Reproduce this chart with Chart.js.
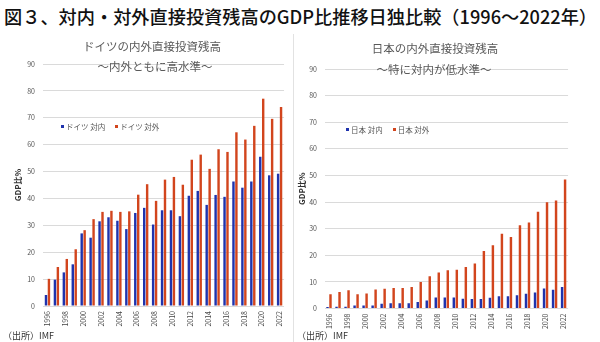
<!DOCTYPE html>
<html lang="ja">
<head>
<meta charset="utf-8">
<title>図３ 対内・対外直接投資残高のGDP比推移日独比較</title>
<script src="https://cdn.jsdelivr.net/npm/chart.js@4.4.1/dist/chart.umd.min.js"></script>
<style>
  html, body { margin: 0; padding: 0; background: #fff; }
  body {
    width: 600px; height: 342px; position: relative; overflow: hidden;
    font-family: 'Noto Sans CJK JP', 'Noto Sans', sans-serif;
  }
  #title {
    position: absolute; left: 4px; top: 5px;
    font-size: 18.2px; line-height: 22px; color: #111; font-weight: 500;
    white-space: nowrap;
  }
  .panel { position: absolute; top: 0; height: 342px; }
  #panel-de { left: 0; width: 293px; }
  #panel-jp { left: 293px; width: 284px; }
  #divider { position: absolute; left: 293px; top: 34px; width: 1px; height: 308px; background: #e2e2e2; }
  .sub {
    position: absolute; font-size: 11.5px; line-height: 14px; color: #595959;
    transform: translateX(-50%); white-space: nowrap;
  }
  .legend {
    position: absolute; display: flex; align-items: center;
    font-size: 7.5px; line-height: 9px; color: #555; white-space: nowrap;
  }
  .legend .item { display: flex; align-items: center; margin-right: 10px; }
  .legend .box { width: 3px; height: 3px; margin-right: 2px; }
  .src { position: absolute; top: 330px; font-size: 9px; line-height: 11px; color: #333; white-space: nowrap; }
</style>
</head>
<body>
<div id="title">図３、対内・対外直接投資残高のGDP比推移日独比較（1996〜2022年）</div>

<div class="panel" id="panel-de"><canvas id="chart-de"></canvas></div>
<div class="panel" id="panel-jp"><canvas id="chart-jp"></canvas></div>
<div id="divider"></div>

<div class="sub" style="left:152px; top:39px;">ドイツの内外直接投資残高</div>
<div class="sub" style="left:155px; top:59px;">〜内外ともに高水準〜</div>
<div class="sub" style="left:435px; top:41px;">日本の内外直接投資残高</div>
<div class="sub" style="left:434px; top:62px;">〜特に対内が低水準〜</div>

<div class="legend" id="legend-de" style="left:61px; top:122px;"></div>
<div class="legend" id="legend-jp" style="left:346px; top:125px;"></div>

<div class="src" style="left:3px;">（出所）IMF</div>
<div class="src" style="left:297px;">（出所）IMF</div>

<script>
// ==============================
// DATA
// ==============================
const years = ['1996', '1997', '1998', '1999', '2000', '2001', '2002', '2003', '2004',
  '2005', '2006', '2007', '2008', '2009', '2010', '2011', '2012', '2013', '2014',
  '2015', '2016', '2017', '2018', '2019', '2020', '2021', '2022'];

const deInward  = [4.1, 9.8, 12.5, 15.5, 27.0, 25.4, 31.5, 33.0, 31.7, 28.6, 34.6, 36.5, 30.3, 35.6,
  35.6, 33.4, 41.0, 42.8, 37.6, 41.3, 40.6, 46.3, 44.0, 46.3, 55.5, 48.6, 49.2];
const deOutward = [10.1, 14.5, 17.5, 21.1, 28.2, 32.3, 35.0, 35.4, 35.0, 35.2, 41.4, 45.3, 39.1, 47.0,
  48.0, 45.1, 54.4, 56.3, 51.0, 58.3, 57.3, 64.6, 61.9, 67.0, 77.1, 69.6, 74.0];
const jpInward  = [0.6, 0.7, 0.7, 1.1, 1.1, 1.1, 1.8, 2.0, 2.0, 2.0, 2.4, 3.0, 4.1, 4.1,
  4.1, 3.7, 3.6, 3.6, 4.0, 4.6, 4.6, 5.0, 5.5, 6.0, 7.5, 7.0, 8.1];
const jpOutward = [5.4, 6.2, 6.9, 5.4, 5.6, 7.1, 7.4, 7.7, 7.7, 8.1, 10.0, 12.1, 13.5, 14.4,
  14.6, 15.6, 16.9, 21.6, 23.8, 28.1, 26.9, 31.3, 32.3, 36.4, 39.9, 40.6, 48.5];

const deSeries = ['ドイツ 対内', 'ドイツ 対外'];
const jpSeries = ['日本 対内', '日本 対外'];

const yMin = 0;
const yMax = 90;
const yStep = 10;
const yTitle = 'GDP比%';

// ==============================
// STYLE
// ==============================
const FONT = "'Noto Sans CJK JP', 'Noto Sans', sans-serif";
const BLUE = '#1f33ad';
const RED = '#d2451d';

// ==============================
// LEGEND (html, inside plot)
// ==============================
function buildLegend(id, names) {
  const el = document.getElementById(id);
  [BLUE, RED].forEach((c, i) => {
    const item = document.createElement('div');
    item.className = 'item';
    const box = document.createElement('span');
    box.className = 'box';
    box.style.background = c;
    item.appendChild(box);
    item.appendChild(document.createTextNode(names[i]));
    el.appendChild(item);
  });
}

// ==============================
// CHARTS
// ==============================
function makeChart(id, inData, outData, names, frame) {
  return new Chart(document.getElementById(id), {
    type: 'bar',
    data: {
      labels: years,
      datasets: [
        { label: names[0], data: inData, backgroundColor: BLUE },
        { label: names[1], data: outData, backgroundColor: RED }
      ]
    },
    options: {
      responsive: true,
      maintainAspectRatio: false,
      animation: false,
      layout: { padding: { top: frame.top, right: frame.right, left: 0, bottom: 0 } },
      datasets: { bar: { categoryPercentage: 0.66, barPercentage: 0.82 } },
      plugins: {
        legend: { display: false },
        tooltip: { enabled: false }
      },
      scales: {
        x: {
          grid: { display: false, drawTicks: false },
          border: { display: false },
          ticks: {
            autoSkip: false,
            minRotation: 90,
            maxRotation: 90,
            padding: 5,
            color: '#444',
            font: { size: 7, family: FONT },
            callback: (v, i) => (i % 2 ? '' : years[i])
          },
          afterFit: s => { s.height = frame.xHeight; }
        },
        y: {
          min: yMin,
          max: yMax,
          grid: { color: '#dadada', drawTicks: false },
          border: { display: false },
          ticks: {
            stepSize: yStep,
            padding: frame.tickPad,
            color: '#555',
            font: { size: 7, family: FONT }
          },
          title: {
            display: true,
            text: yTitle,
            color: '#333',
            font: { size: 8, weight: 'bold', family: FONT },
            padding: { top: frame.titlePad, bottom: 0 }
          },
          afterFit: s => { s.width = frame.yWidth; }
        }
      }
    }
  });
}

buildLegend('legend-de', deSeries);
buildLegend('legend-jp', jpSeries);

makeChart('chart-de', deInward, deOutward, deSeries,
  { top: 64, right: 1, xHeight: 36, yWidth: 43, tickPad: 8, titlePad: 13 });
makeChart('chart-jp', jpInward, jpOutward, jpSeries,
  { top: 69, right: 1, xHeight: 33.5, yWidth: 31.5, tickPad: 7.5, titlePad: 4 });
</script>
</body>
</html>
